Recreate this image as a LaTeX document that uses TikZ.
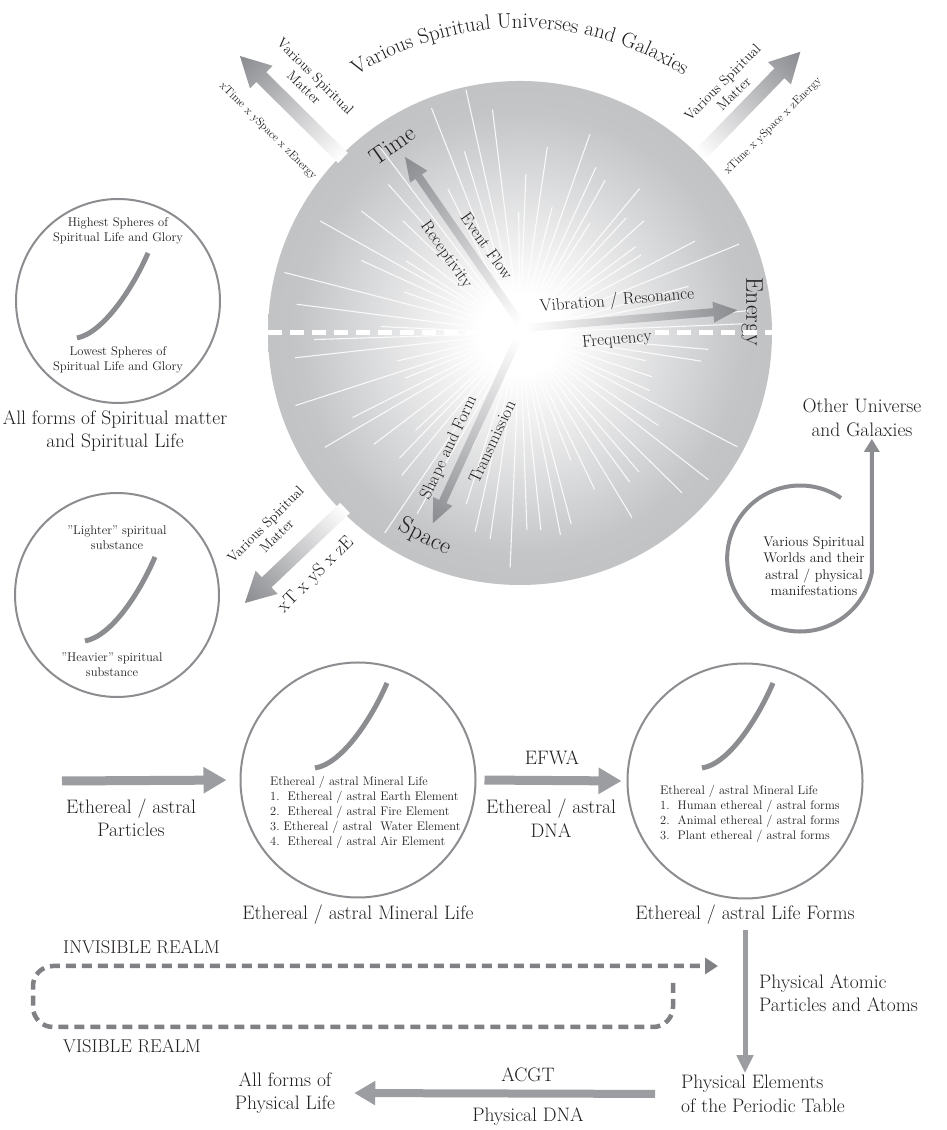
\documentclass[tikz,border=0pt]{standalone}
\usepackage{fontspec}
\usepackage{tikz}
\usetikzlibrary{arrows.meta, positioning, decorations.text}

\definecolor{inkcol}{RGB}{35,31,32}
\definecolor{ringgray}{RGB}{140,141,144}
\definecolor{arrowgray}{RGB}{156,157,161}
\definecolor{arrowdark}{RGB}{138,139,143}
\definecolor{realmgray}{RGB}{128,129,132}
\definecolor{discgray}{RGB}{174,175,178}
\definecolor{discmid}{RGB}{196,197,199}
\pgfdeclareradialshading{discshade}{\pgfpoint{0bp}{0bp}}{%
  color(0bp)=(white); color(4bp)=(white); color(22bp)=(discmid); color(50bp)=(discgray)}

\newcommand\titlefont{\fontsize{21}{24}\selectfont\color{inkcol}}

% gradient arrow: tail coordinate, angle, length, half shaft, half head, head length
\newcommand\shadedarrow[6]{%
  \begin{scope}[transform canvas={shift={(#1)},rotate=#2}]
    \shade[left color=white, middle color=arrowgray, right color=arrowdark]
      (0,-#4) -- ({#3-#6},-#4) -- ({#3-#6},-#5) -- (#3,0)
      -- ({#3-#6},#5) -- ({#3-#6},#4) -- (0,#4) -- cycle;
  \end{scope}}

\begin{document}
\begin{tikzpicture}[
  x=1pt, y=1pt,
  disc/.style={circle, minimum size=504pt, inner sep=0pt, shade, shading=discshade},
  ray/.style={white, line width=1.1pt, opacity=0.85},
  divider/.style={white, line width=5pt, dash pattern=on 14pt off 8pt},
  lbl/.style={font=\fontsize{19.5}{23.5}\selectfont, text=inkcol, align=center, inner sep=2pt},
  axislbl/.style={font=\fontsize{24}{28}\selectfont, text=inkcol},
  inlbl/.style={font=\fontsize{17}{20}\selectfont, text=inkcol},
  tinylbl/.style={font=\fontsize{12.6}{15}\selectfont, text=inkcol, align=center},
  listlbl/.style={font=\fontsize{12.4}{15}\selectfont, text=inkcol, align=left, anchor=north west, inner sep=0pt},
  vsmlbl/.style={font=\fontsize{14}{16}\selectfont, text=inkcol, align=center},
  dimlbl/.style={font=\fontsize{11.5}{13}\selectfont, text=inkcol},
  xtlbl/.style={font=\fontsize{18.5}{21}\selectfont, text=inkcol},
  worldlbl/.style={font=\fontsize{14}{16.5}\selectfont, text=inkcol, align=center, inner sep=1pt},
  realmlbl/.style={font=\fontsize{18.5}{22}\selectfont, text=inkcol, anchor=west, inner sep=0pt},
  sphere/.style={circle, draw=ringgray, line width=2pt, minimum size=204pt, inner sep=0pt},
  lifering/.style={circle, draw=ringgray, line width=2pt, minimum size=235pt, inner sep=0pt},
  sphcurve/.style={draw=ringgray, line width=5pt},
  flatarr/.style={draw=arrowgray, line width=9pt, -{Triangle[length=23pt,width=25pt]}},
  thinarr/.style={draw=arrowgray, line width=5pt, -{Triangle[length=18pt,width=16pt]}},
  dnaarr/.style={draw=arrowgray, line width=8pt, -{Triangle[length=21pt,width=23pt]}},
  loopline/.style={draw=ringgray, line width=4pt, -{Triangle[length=13pt,width=15pt]}},
  realmline/.style={draw=realmgray, line width=4.5pt, dash pattern=on 10pt off 6pt, rounded corners=20pt, -{Triangle[length=13pt,width=16pt]}}
]
  \useasboundingbox (0,0) rectangle (946,1130);
  \fill[white] (0,0) rectangle (946,1130);

  % the spiritual disc
  \node[disc] (disc) at (520,797) {};
  \pgfmathsetseed{4}
  \foreach \a in {0,5,...,355}{
    \pgfmathsetmacro\rayang{\a+3*rnd}
    \pgfmathsetmacro\raylen{120+130*rnd}
    \draw[ray] (disc.center) -- ++(\rayang:\raylen);
  }

  \path[decorate, decoration={text along path, text align=center,
      text={|\titlefont|Various Spiritual Universes and Galaxies}}]
    ([shift={(150:305)}]disc.center) arc[start angle=150, end angle=30, radius=305];

  \node[axislbl, rotate=35] (timelbl) at (392,985) {Time};
  \node[inlbl, rotate=-55] (eventlbl) at (487,884) {Event Flow};
  \node[inlbl, rotate=-55] (receptlbl) at (446,875) {Receptivity};
  \node[inlbl, rotate=5] (vibrlbl) at (617,829) {Vibration / Resonance};
  \node[inlbl, rotate=5] (freqlbl) at (617,790) {Frequency};
  \node[axislbl, rotate=-90] (energylbl) at (752,818) {Energy};
  \node[inlbl, rotate=65] (shapelbl) at (449,682) {Shape and Form};
  \node[inlbl, rotate=65] (translbl) at (492,688) {Transmission};
  \node[axislbl, rotate=-27] (spacelbl) at (425,593) {Space};

  \draw[divider] (disc.west) -- (disc.center);
  \draw[divider] (freqlbl.east |- disc.center) -- (disc.east);

  \coordinate (timeTail) at (520,807);
  \coordinate (energyTail) at (525,802);
  \coordinate (spaceTail) at (518,792);
  \shadedarrow{timeTail}{124.7}{202}{4}{10.5}{24}
  \shadedarrow{energyTail}{4.8}{213}{4}{10.5}{24}
  \shadedarrow{spaceTail}{245.3}{204}{4}{10.5}{24}

  % matter leaving the disc
  \coordinate (ulTail) at (343,972);
  \coordinate (urTail) at (700,975);
  \coordinate (llTail) at (345,622);
  \shadedarrow{ulTail}{135.3}{145}{7}{16}{30}
  \shadedarrow{urTail}{45.8}{144}{7}{16}{30}
  \shadedarrow{llTail}{223.5}{138}{7}{16}{30}

  \node[vsmlbl, rotate=-45] (ulmatter) at (310,1048) {Various Spiritual\\Matter};
  \node[dimlbl, rotate=-45] (uldims) at (268,999) {xTime x ySpace x zEnergy};
  \node[vsmlbl, rotate=45] (urmatter) at (728,1042) {Various Spiritual\\Matter};
  \node[dimlbl, rotate=45] (urdims) at (773,1004) {xTime x ySpace x zEnergy};
  \node[vsmlbl, rotate=45] (llmatter) at (271,600) {Various Spiritual\\Matter};
  \node[xtlbl, rotate=45] (lldims) at (316,555) {xT x yS x zE};

  % spheres of spiritual life
  \node[sphere] (glory) at (118,829) {};
  \node[tinylbl] (highest) at (118,899) {Highest Spheres of\\Spiritual Life and Glory};
  \draw[sphcurve] (148,877) .. controls (133,842) and (103,797) .. (77,792);
  \node[tinylbl] (lowest) at (118,770) {Lowest Spheres of\\Spiritual Life and Glory};
  \node[lbl] (allspirit) at (115,699) {All forms of Spiritual matter\\and Spiritual Life};

  \node[sphere] (substance) at (117,535) {};
  \node[tinylbl] (lighter) at (117,592) {"Lighter" spiritual\\substance};
  \draw[sphcurve] (155,573) .. controls (140,538) and (112,494) .. (85,489);
  \node[tinylbl] (heavier) at (112,465) {"Heavier" spiritual\\substance};

  % other universes
  \node[lbl] (otherlbl) at (862,712) {Other Universe\\and Galaxies};
  \node[worldlbl] (worlds) at (814,564) {Various Spiritual\\Worlds and their\\astral / physical\\manifestations};
  \coordinate (loopStart) at (841,632);
  \draw[loopline] (loopStart) arc[start angle=56, end angle=349, radius=73]
    coordinate (loopEnd) -- (loopEnd |- otherlbl.south);

  % ethereal / astral level
  \node[lifering] (mineral) at (358,350) {};
  \draw[sphcurve] (387,447) .. controls (372,412) and (342,366) .. (315,362);
  \node[listlbl] (minerallist) at (270,354) {Ethereal / astral Mineral Life\\
    1.\ \ Ethereal / astral Earth Element\\
    2.\ \ Ethereal / astral Fire Element\\
    3.\ Ethereal / astral\ \ Water Element\\
    4.\ \ Ethereal / astral Air Element};
  \node[lifering] (lifeforms) at (745,349) {};
  \draw[sphcurve] (773,447) .. controls (758,412) and (729,366) .. (702,362);
  \node[listlbl] (formlist) at (660,345) {Ethereal / astral Mineral Life\\
    1.\ \ Human ethereal / astral forms\\
    2.\ \ Animal ethereal / astral forms\\
    3.\ \ Plant ethereal / astral forms};

  \node[lbl] (particles) at (131,312) {Ethereal / astral\\Particles};
  \coordinate (partStart) at (62,349);
  \draw[flatarr, shorten >=13pt] (partStart) -- (mineral.west);
  \draw[flatarr, shorten <=8pt, shorten >=5pt] (mineral.east) -- (lifeforms.west);
  \node[lbl] (efwa) at (552,372) {EFWA};
  \node[lbl] (etherdna) at (551,312) {Ethereal / astral\\DNA};

  \node[lbl] (minerallbl) at (358,215) {Ethereal / astral Mineral Life};
  \node[lbl] (lifelbl) at (745,215) {Ethereal / astral Life Forms};

  % invisible / visible realm
  \node[realmlbl] (invisible) at (63,183) {INVISIBLE REALM};
  \node[realmlbl] (visible) at (63,84) {VISIBLE REALM};
  \coordinate (realmEnd) at (673,147);
  \coordinate (realmCorner) at (33,103);
  \coordinate (realmTip) at (718,164);
  \draw[realmline] (realmEnd) -- (realmEnd |- realmCorner) -- (realmCorner)
    -- (realmCorner |- realmTip) -- (realmTip);

  % physical level
  \node[lbl, align=left, anchor=west] (atoms) at (757,137) {Physical Atomic\\Particles and Atoms};
  \node[lbl, align=left, anchor=west] (elements) at (679,36) {Physical Elements\\of the Periodic Table};
  \node[lbl] (physlife) at (285,37) {All forms of\\Physical Life};
  \draw[thinarr, shorten <=3pt] (lifelbl.south) -- (lifelbl.south |- elements.north);
  \draw[dnaarr, shorten <=24pt, shorten >=17pt] (elements.west) -- (physlife.east);
  \node[lbl] (acgt) at (528,55) {ACGT};
  \node[lbl] (physdna) at (528,13) {Physical DNA};
\end{tikzpicture}
\end{document}
